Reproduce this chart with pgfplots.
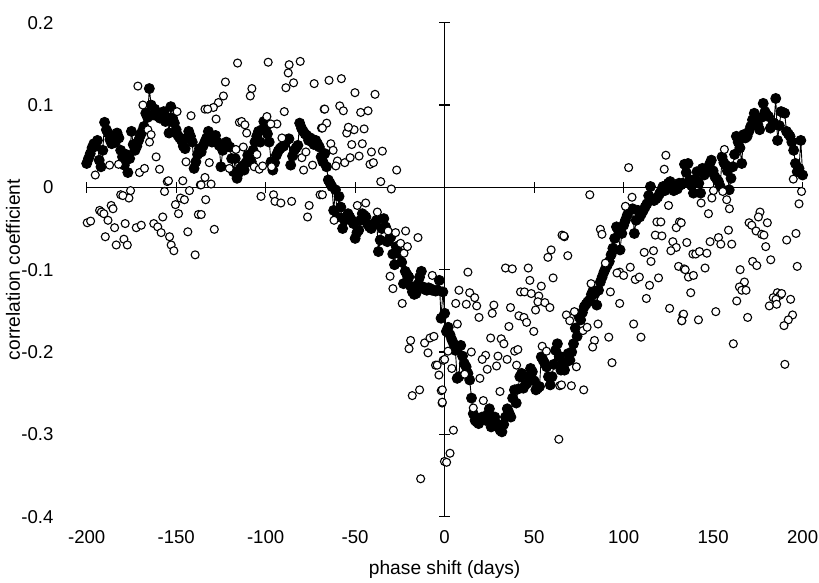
\documentclass[border=0pt]{standalone}
\usepackage{fontspec}
\setmainfont{Liberation Sans}
\usepackage{pgfplots}
\pgfplotsset{compat=1.18}

% common frame shared by the label layer and the data layer
\pgfplotsset{
  frame/.style={
    at={(0,0)}, anchor=south west,
    scale only axis, width=358pt, height=247pt,
    xmin=-200, xmax=200, ymin=-0.4, ymax=0.2,
    xtick={-200,-150,-100,-50,0,50,100,150,200},
    ytick={-0.4,-0.3,-0.2,-0.1,0,0.1,0.2},
  }
}

\begin{document}
\begin{tikzpicture}
\path[use as bounding box] (-43.35pt,-33.15pt) rectangle (366.2pt,258.35pt);

% tick labels and axis titles on the outer frame
\begin{axis}[
  frame,
  axis x line=bottom, axis y line=left,
  axis line style={draw=none},
  major tick style={draw=none},
  xticklabels={-200,-150,-100,-50,0,50,100,150,200},
  yticklabels={-0.4,-0.3,-0.2,-0.1,0,0.1,0.2},
  tick label style={font=\fontsize{9.3}{11}\selectfont},
  xticklabel style={yshift=-1.2pt},
  yticklabel style={xshift=-11pt},
  xlabel={phase shift (days)},
  ylabel={correlation coefficient},
  label style={font=\fontsize{9.6}{11.5}\selectfont},
  xlabel style={at={(axis description cs:0.5,-0.1077)}, anchor=center},
  ylabel style={at={(axis description cs:-0.1028,0.5)}, anchor=center},
]
\end{axis}

% crossing axes through the origin and the two series
\begin{axis}[
  frame,
  axis lines=middle,
  axis line style={-, black, line width=0.6pt},
  xticklabels={}, yticklabels={},
  tick align=center, major tick length=5.5pt,
  major tick style={black, line width=0.6pt},
  clip=false,
]
% daily coefficient, filled markers joined by a line
\addplot[black, line width=0.45pt, mark=*, mark size=2.5pt,
  mark options={solid, fill=black, draw=black}] coordinates {
(-200,0.029) (-199,0.035) (-198,0.041) (-197,0.048) (-196,0.053) (-195,0.050) (-194,0.057) (-193,0.033) (-192,0.025) (-191,0.045)
(-190,0.079) (-189,0.070) (-188,0.066) (-187,0.058) (-186,0.053) (-185,0.060) (-184,0.055) (-183,0.066) (-182,0.060) (-181,0.045)
(-180,0.037) (-179,0.027) (-178,0.040) (-177,0.018) (-176,0.035) (-175,0.068) (-174,0.052) (-173,0.045) (-172,0.050) (-171,0.057)
(-170,0.063) (-169,0.068) (-168,0.074) (-167,0.090) (-166,0.085) (-165,0.120) (-164,0.100) (-163,0.088) (-162,0.095) (-161,0.090)
(-160,0.086) (-159,0.084) (-158,0.088) (-157,0.092) (-156,0.080) (-155,0.085) (-154,0.066) (-153,0.098) (-152,0.084) (-151,0.078)
(-150,0.070) (-149,0.063) (-148,0.060) (-147,0.057) (-146,0.050) (-145,0.047) (-144,0.060) (-143,0.068) (-142,0.062) (-141,0.055)
(-140,0.023) (-139,0.031) (-138,0.040) (-137,0.047) (-136,0.043) (-135,0.050) (-134,0.055) (-133,0.060) (-132,0.068) (-131,0.060)
(-130,0.055) (-129,0.058) (-128,0.063) (-127,0.055) (-126,0.051) (-125,0.025) (-124,0.045) (-123,0.052) (-122,0.055) (-121,0.050)
(-120,0.049) (-119,0.035) (-118,0.019) (-117,0.035) (-116,0.011) (-115,0.018) (-114,0.023) (-113,0.026) (-112,0.021) (-111,0.030)
(-110,0.039) (-109,0.035) (-108,0.031) (-107,0.045) (-106,0.055) (-105,0.062) (-104,0.068) (-103,0.055) (-102,0.070) (-101,0.080)
(-100,0.072) (-99,0.065) (-98,0.055) (-97,0.031) (-96,0.021) (-95,0.030) (-94,0.039) (-93,0.044) (-92,0.047) (-91,0.049)
(-90,0.050) (-89,0.055) (-88,0.058) (-87,0.059) (-86,0.027) (-85,0.038) (-84,0.045) (-83,0.048) (-82,0.051) (-81,0.078)
(-80,0.072) (-79,0.068) (-78,0.065) (-77,0.063) (-76,0.057) (-75,0.060) (-74,0.055) (-73,0.052) (-72,0.057) (-71,0.053)
(-70,0.049) (-69,0.037) (-68,0.031) (-67,0.041) (-66,0.025) (-65,0.009) (-64,0.005) (-63,0.001) (-62,-0.028) (-61,-0.003)
(-60,-0.036) (-59,-0.011) (-58,-0.024) (-57,-0.050) (-56,-0.040) (-55,-0.036) (-54,-0.032) (-53,-0.036) (-52,-0.040) (-51,-0.044)
(-50,-0.062) (-49,-0.055) (-48,-0.052) (-47,-0.040) (-46,-0.032) (-45,-0.034) (-44,-0.036) (-43,-0.045) (-42,-0.048) (-41,-0.050)
(-40,-0.046) (-39,-0.043) (-38,-0.040) (-37,-0.078) (-36,-0.064) (-35,-0.050) (-34,-0.038) (-33,-0.048) (-32,-0.066) (-31,-0.063)
(-30,-0.060) (-29,-0.081) (-28,-0.094) (-27,-0.072) (-26,-0.078) (-25,-0.081) (-24,-0.091) (-23,-0.117) (-22,-0.102) (-21,-0.106)
(-20,-0.109) (-19,-0.120) (-18,-0.127) (-17,-0.130) (-16,-0.129) (-15,-0.118) (-14,-0.109) (-13,-0.102) (-12,-0.121) (-11,-0.124)
(-10,-0.125) (-9,-0.122) (-8,-0.123) (-7,-0.125) (-6,-0.125) (-5,-0.126) (-4,-0.125) (-3,-0.113) (-2,-0.159) (-1,-0.127)
(0,-0.153) (1,-0.175) (2,-0.170) (3,-0.179) (4,-0.185) (5,-0.190) (6,-0.198) (7,-0.232) (8,-0.230) (9,-0.192)
(10,-0.205) (11,-0.214) (12,-0.218) (13,-0.226) (14,-0.234) (15,-0.256) (16,-0.275) (17,-0.283) (18,-0.285) (19,-0.287)
(20,-0.282) (21,-0.279) (22,-0.281) (23,-0.283) (24,-0.276) (25,-0.269) (26,-0.291) (27,-0.285) (28,-0.279) (29,-0.287)
(30,-0.291) (31,-0.295) (32,-0.297) (33,-0.288) (34,-0.279) (35,-0.269) (36,-0.274) (37,-0.279) (38,-0.256) (39,-0.246)
(40,-0.262) (41,-0.245) (42,-0.230) (43,-0.226) (44,-0.244) (45,-0.240) (46,-0.238) (47,-0.230) (48,-0.220) (49,-0.224)
(50,-0.235) (51,-0.246) (52,-0.244) (53,-0.242) (54,-0.206) (55,-0.210) (56,-0.214) (57,-0.218) (58,-0.230) (59,-0.240)
(60,-0.230) (61,-0.215) (62,-0.198) (63,-0.190) (64,-0.205) (65,-0.222) (66,-0.214) (67,-0.222) (68,-0.212) (69,-0.202)
(70,-0.210) (71,-0.200) (72,-0.190) (73,-0.171) (74,-0.181) (75,-0.157) (76,-0.161) (77,-0.152) (78,-0.145) (79,-0.142)
(80,-0.139) (81,-0.137) (82,-0.130) (83,-0.125) (84,-0.129) (85,-0.143) (86,-0.125) (87,-0.115) (88,-0.109) (89,-0.103)
(90,-0.098) (91,-0.094) (92,-0.090) (93,-0.082) (94,-0.074) (95,-0.062) (96,-0.048) (97,-0.052) (98,-0.076) (99,-0.056)
(100,-0.046) (101,-0.040) (102,-0.034) (103,-0.028) (104,-0.027) (105,-0.026) (106,-0.056) (107,-0.040) (108,-0.028) (109,-0.036)
(110,-0.032) (111,-0.028) (112,-0.024) (113,-0.020) (114,-0.010) (115,0.001) (116,-0.014) (117,-0.016) (118,-0.014) (119,-0.012)
(120,-0.008) (121,-0.004) (122,0.001) (123,-0.004) (124,0.002) (125,0.005) (126,0.007) (127,0.002) (128,-0.004) (129,-0.001)
(130,-0.002) (131,0.005) (132,0.003) (133,0.005) (134,0.028) (135,0.018) (136,0.029) (137,0.009) (138,0.002) (139,-0.007)
(140,0.010) (141,0.019) (142,0.005) (143,-0.007) (144,0.023) (145,0.015) (146,0.018) (147,0.023) (148,0.028) (149,0.033)
(150,0.020) (151,0.013) (152,0.010) (153,0.007) (154,0.001) (155,0.037) (156,0.030) (157,0.027) (158,0.020) (159,-0.003)
(160,0.011) (161,0.025) (162,0.040) (163,0.062) (164,0.055) (165,0.048) (166,0.029) (167,0.064) (168,0.060) (169,0.062)
(170,0.068) (171,0.074) (172,0.082) (173,0.090) (174,0.082) (175,0.076) (176,0.070) (177,0.085) (178,0.102) (179,0.092)
(180,0.088) (181,0.086) (182,0.072) (183,0.075) (184,0.078) (185,0.108) (186,0.057) (187,0.075) (188,0.092) (189,0.091)
(190,0.090) (191,0.068) (192,0.065) (193,0.062) (194,0.055) (195,0.045) (196,0.029) (197,0.019) (198,0.023) (199,0.057)
(200,0.015)
};
% scattered coefficient, open markers
\addplot[only marks, mark=*, mark size=2.0pt,
  mark options={fill=white, draw=black, line width=0.55pt}] coordinates {
(-171.4,0.123) (-168.6,0.100) (-195.2,0.015) (-187.2,0.027) (-182.2,0.028) (-170.5,0.018) (-167.7,0.023) (-165.8,0.070) (-164.9,0.055) (-164.0,0.064)
(-161.2,0.037) (-159.3,0.022) (-149.5,0.092) (-141.7,0.087) (-144.5,0.031) (-155.0,0.007) (-154.3,0.008) (-156.5,-0.005) (-146.3,0.008) (-142.6,-0.004)
(-136.5,0.003) (-175.5,-0.004) (-176.4,-0.013) (-181.0,-0.009) (-179.8,-0.010) (-186.3,-0.022) (-185.3,-0.026) (-192.8,-0.028) (-191.8,-0.030) (-190.4,-0.032)
(-188.1,-0.040) (-199.7,-0.043) (-197.8,-0.041) (-189.6,-0.060) (-184.4,-0.049) (-178.5,-0.044) (-172.3,-0.049) (-169.5,-0.046) (-162.5,-0.044) (-160.3,-0.048)
(-158.4,-0.055) (-157.5,-0.036) (-150.4,-0.021) (-147.6,-0.013) (-145.4,-0.015) (-148.7,-0.032) (-143.5,-0.054) (-137.6,-0.033) (-183.5,-0.070) (-179.2,-0.063)
(-177.3,-0.070) (-153.7,-0.060) (-152.8,-0.070) (-151.3,-0.077) (-139.4,-0.082) (-133.9,0.095)
(-115.7,0.151) (-98.6,0.152) (-86.9,0.149) (-80.7,0.153) (-87.4,0.139) (-84.4,0.127) (-88.7,0.121) (-72.9,0.126) (-122.5,0.128) (-107.7,0.120)
(-108.6,0.111) (-123.6,0.111) (-126.4,0.103) (-129.2,0.097) (-132.4,0.095) (-127.7,0.083) (-114.7,0.079) (-113.4,0.080) (-111.6,0.076) (-110.6,0.066)
(-99.3,0.086) (-93.7,0.077) (-89.6,0.092) (-97.1,0.077) (-68.8,0.072) (-67.3,0.095) (-116.6,0.046) (-112.5,0.049) (-104.9,0.040) (-90.9,0.060)
(-131.5,0.030) (-120.3,0.023) (-106.4,0.025) (-103.6,0.022) (-101.7,0.026) (-96.7,0.025) (-78.8,0.021) (-79.8,0.036) (-77.5,0.043) (-73.8,0.027)
(-133.9,0.012) (-130.5,0.004) (-136.1,0.003) (-102.6,-0.011) (-95.6,-0.009) (-94.8,-0.017) (-91.5,-0.019) (-85.5,-0.017) (-75.7,-0.022) (-76.6,-0.036)
(-69.6,-0.009) (-133.5,-0.015) (-128.7,-0.051) (-136.0,-0.033)
(-64.6,0.130) (-57.7,0.132) (-50.1,0.115) (-38.9,0.113) (-58.6,0.099) (-56.6,0.093) (-67.0,0.095) (-46.9,0.091) (-42.8,0.093) (-65.9,0.078)
(-68.3,0.072) (-54.7,0.066) (-50.6,0.070) (-45.0,0.071) (-53.8,0.073) (-63.6,0.053) (-62.3,0.045) (-51.9,0.052) (-46.0,0.053) (-40.9,0.043)
(-34.8,0.044) (-59.9,0.032) (-60.8,0.026) (-55.8,0.030) (-52.8,0.036) (-47.8,0.038) (-41.7,0.028) (-39.8,0.030) (-26.8,0.021) (-35.7,0.007)
(-29.8,-0.002) (-68.3,-0.009) (-61.8,-0.040) (-48.8,-0.022) (-44.1,-0.019) (-37.6,-0.030) (-31.6,-0.053) (-27.4,-0.055) (-21.8,-0.053) (-14.9,-0.061)
(-24.6,-0.068) (-22.7,-0.080) (-20.8,-0.072) (-30.5,-0.108) (-28.9,-0.123) (-23.7,-0.141) (-6.9,-0.107) (-19.0,-0.186) (-19.9,-0.196) (-11.2,-0.189)
(-9.3,-0.201) (-8.2,-0.183) (-6.0,-0.181) (-5.1,-0.216) (-4.2,-0.216) (-3.2,-0.228) (-1.9,-0.247) (-1.4,-0.262) (-0.8,-0.210) (-18.1,-0.253)
(-14.0,-0.246) (-13.4,-0.354) (-0.1,-0.333)
(13.0,-0.103) (34.0,-0.098) (37.8,-0.099) (46.7,-0.098) (65.6,-0.058) (66.9,-0.060) (59.5,-0.076) (57.7,-0.085) (60.6,-0.110) (8.0,-0.125)
(14.0,-0.128) (16.8,-0.134) (17.9,-0.144) (6.2,-0.141) (12.1,-0.142) (27.5,-0.143) (26.6,-0.153) (36.8,-0.146) (19.2,-0.158) (7.1,-0.166)
(42.4,-0.127) (44.6,-0.127) (48.4,-0.129) (47.6,-0.113) (54.0,-0.120) (52.6,-0.132) (52.1,-0.139) (56.0,-0.140) (58.8,-0.146) (50.8,-0.149)
(41.5,-0.156) (44.3,-0.158) (45.8,-0.164) (35.9,-0.169) (49.8,-0.175) (25.7,-0.183) (31.6,-0.184) (33.1,-0.190) (39.1,-0.199) (40.9,-0.197)
(34.9,-0.209) (40.2,-0.216) (29.8,-0.205) (22.9,-0.204) (21.0,-0.209) (29.0,-0.217) (23.8,-0.221) (14.9,-0.200) (1.9,-0.199) (0.0,-0.209)
(4.0,-0.220) (11.2,-0.227) (19.7,-0.232) (30.9,-0.248) (21.6,-0.259) (16.0,-0.268) (4.9,-0.295) (3.0,-0.323) (1.1,-0.334) (-1.3,-0.261)
(-1.3,-0.246) (63.8,-0.306) (54.5,-0.193) (56.9,-0.199) (64.3,-0.241)
(123.6,0.039) (122.7,0.022) (102.8,0.024) (81.1,-0.009) (104.7,-0.012) (101.0,-0.023) (125.1,-0.022) (118.6,-0.042) (120.8,-0.042) (131.2,-0.042)
(129.4,-0.049) (117.7,-0.058) (121.4,-0.059) (66.6,-0.059) (87.0,-0.051) (87.9,-0.057) (127.5,-0.066) (129.4,-0.073) (126.4,-0.077) (111.5,-0.079)
(116.7,-0.077) (68.8,-0.083) (115.3,-0.090) (130.7,-0.096) (133.8,-0.099) (89.8,-0.092) (97.8,-0.103) (103.7,-0.097) (96.3,-0.104) (100.0,-0.107)
(106.5,-0.112) (108.8,-0.109) (119.5,-0.110) (114.5,-0.119) (81.8,-0.117) (92.6,-0.127) (112.7,-0.135) (97.8,-0.141) (125.7,-0.147) (133.1,-0.155)
(132.5,-0.162) (68.0,-0.155) (69.9,-0.162) (72.5,-0.151) (77.3,-0.174) (79.6,-0.170) (85.7,-0.166) (105.6,-0.166) (91.7,-0.182) (109.7,-0.182)
(83.7,-0.186) (82.7,-0.194) (93.5,-0.213) (73.6,-0.218) (65.3,-0.240) (70.8,-0.241) (77.7,-0.246)
(156.3,0.046) (155.4,-0.005) (157.6,-0.015) (159.1,-0.026) (150.2,-0.004) (149.3,-0.013) (143.3,-0.019) (147.4,-0.032) (194.8,0.010) (199.4,-0.005)
(198.0,-0.020) (176.2,-0.030) (175.3,-0.036) (180.3,-0.043) (170.1,-0.043) (171.6,-0.046) (174.0,-0.053) (177.1,-0.057) (178.4,-0.058) (158.6,-0.052)
(196.3,-0.056) (191.1,-0.064) (132.2,-0.043) (135.3,-0.067) (153.0,-0.061) (154.3,-0.069) (160.4,-0.069) (148.3,-0.066) (179.4,-0.072) (138.7,-0.081)
(140.3,-0.081) (142.4,-0.078) (146.5,-0.080) (182.2,-0.088) (172.1,-0.090) (174.4,-0.095) (197.0,-0.096) (165.1,-0.100) (145.5,-0.098) (134.4,-0.100)
(136.2,-0.109) (139.0,-0.107) (167.5,-0.115) (164.7,-0.121) (166.0,-0.125) (168.4,-0.125) (163.2,-0.138) (137.5,-0.128) (185.9,-0.128) (187.4,-0.131)
(188.3,-0.129) (183.6,-0.134) (185.1,-0.136) (193.3,-0.136) (181.4,-0.144) (185.5,-0.142) (194.4,-0.155) (192.0,-0.161) (189.6,-0.168) (133.5,-0.154)
(132.5,-0.162) (141.8,-0.161) (151.5,-0.151) (169.3,-0.158) (161.3,-0.190) (190.1,-0.215)
};
\end{axis}
\end{tikzpicture}
\end{document}
